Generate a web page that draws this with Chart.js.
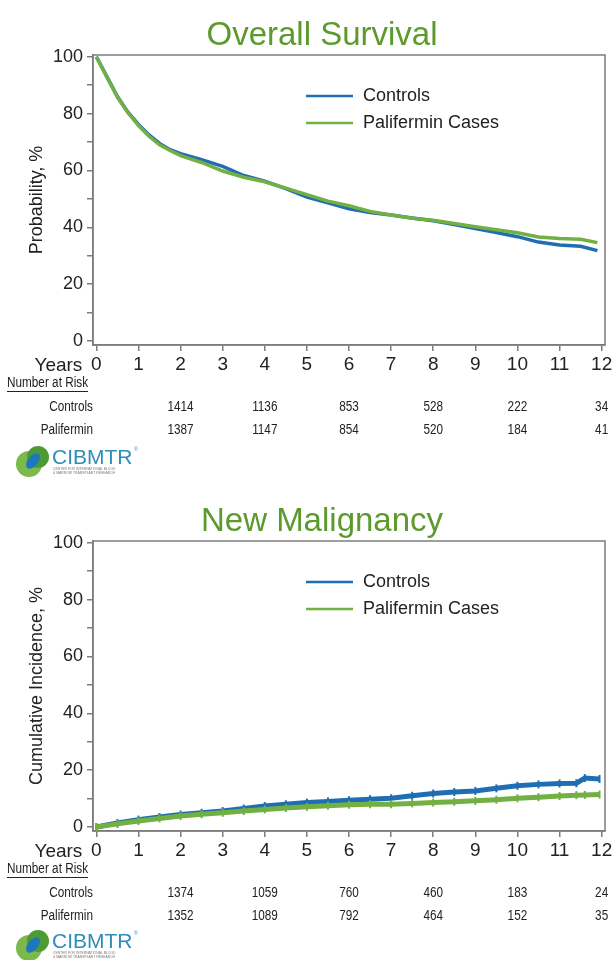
<!DOCTYPE html>
<html>
<head>
<meta charset="utf-8">
<script src="https://cdn.jsdelivr.net/npm/chart.js@4.4.0/dist/chart.umd.min.js"></script>
<style>
  html, body { margin: 0; padding: 0; background: #fff; }
  body { width: 612px; height: 960px; overflow: hidden; position: relative; }
  canvas { position: absolute; left: 0; }
  .logo { position: absolute; left: 0; }
</style>
</head>
<body>
<canvas id="osChart" width="612" height="486" style="top:0"></canvas>
<canvas id="nmChart" width="612" height="474" style="top:486px"></canvas>

<svg class="logo" style="top:440px" width="150" height="40" viewBox="0 0 150 40">
  <circle cx="29" cy="24" r="13" fill="#7cb84a"/>
  <circle cx="38" cy="17" r="11" fill="#4e9a34"/>
  <ellipse cx="33" cy="21" rx="5" ry="9" fill="#1d77bf" transform="rotate(40 33 21)"/>
  <text x="52" y="24" font-family="Liberation Sans, Arial, sans-serif" font-size="21" fill="#2f8db8">CIBMTR</text>
  <text x="134" y="11" font-family="Liberation Sans, Arial, sans-serif" font-size="5" fill="#2f8db8">®</text>
  <text x="53" y="30" font-family="Liberation Sans, Arial, sans-serif" font-size="3.4" fill="#777">CENTER FOR INTERNATIONAL BLOOD</text>
  <text x="53" y="34" font-family="Liberation Sans, Arial, sans-serif" font-size="3.4" fill="#777">&amp; MARROW TRANSPLANT RESEARCH</text>
</svg>
<svg class="logo" style="top:924px" width="150" height="40" viewBox="0 0 150 40">
  <circle cx="29" cy="24" r="13" fill="#7cb84a"/>
  <circle cx="38" cy="17" r="11" fill="#4e9a34"/>
  <ellipse cx="33" cy="21" rx="5" ry="9" fill="#1d77bf" transform="rotate(40 33 21)"/>
  <text x="52" y="24" font-family="Liberation Sans, Arial, sans-serif" font-size="21" fill="#2f8db8">CIBMTR</text>
  <text x="134" y="11" font-family="Liberation Sans, Arial, sans-serif" font-size="5" fill="#2f8db8">®</text>
  <text x="53" y="30" font-family="Liberation Sans, Arial, sans-serif" font-size="3.4" fill="#777">CENTER FOR INTERNATIONAL BLOOD</text>
  <text x="53" y="34" font-family="Liberation Sans, Arial, sans-serif" font-size="3.4" fill="#777">&amp; MARROW TRANSPLANT RESEARCH</text>
</svg>

<script>
// axis ticks
const xTicks = [0, 1, 2, 3, 4, 5, 6, 7, 8, 9, 10, 11, 12];
const yTicks = [0, 10, 20, 30, 40, 50, 60, 70, 80, 90, 100];

// overall survival, %
const osYears = [0, 0.25, 0.5, 0.75, 1, 1.25, 1.5, 1.75, 2, 2.5, 3, 3.5, 4, 4.5, 5, 5.5, 6, 6.5, 7, 7.5, 8, 8.5, 9, 9.5, 10, 10.5, 11, 11.5, 11.9];
const osControls = [100, 93, 86, 80.5, 76.2, 72.5, 69.5, 67.3, 65.9, 63.8, 61.4, 58.2, 56.2, 53.6, 50.6, 48.6, 46.5, 45.2, 44.3, 43.3, 42.3, 41.0, 39.6, 38.2, 36.7, 34.8, 33.8, 33.3, 31.8];
const osPalifermin = [100, 92.8, 85.8, 80.3, 75.8, 72, 69, 67, 65.2, 62.8, 59.8, 57.6, 56.0, 53.8, 51.5, 49.2, 47.6, 45.6, 44.3, 43.2, 42.5, 41.3, 40.2, 39.1, 38.1, 36.6, 36.1, 35.8, 34.6];

// new malignancy, cumulative incidence %
const nmYears = [0, 0.5, 1, 1.5, 2, 2.5, 3, 3.5, 4, 4.5, 5, 5.5, 6, 6.5, 7, 7.5, 8, 8.5, 9, 9.5, 10, 10.5, 11, 11.4, 11.6, 11.95];
const nmControls = [0, 1.4, 2.6, 3.5, 4.4, 5.0, 5.6, 6.5, 7.4, 8.0, 8.6, 9.0, 9.4, 9.8, 10.1, 11.0, 11.8, 12.3, 12.7, 13.6, 14.5, 15.0, 15.3, 15.4, 17.2, 16.9];
const nmPalifermin = [0, 1.1, 2.1, 3.0, 3.9, 4.5, 5.0, 5.6, 6.2, 6.7, 7.1, 7.5, 7.8, 8.0, 8.0, 8.3, 8.6, 8.9, 9.2, 9.6, 10.1, 10.5, 10.9, 11.2, 11.3, 11.4];

// number at risk
const riskYears = [2, 4, 6, 8, 10, 12];
const osRiskControls = [1414, 1136, 853, 528, 222, 34];
const osRiskPalifermin = [1387, 1147, 854, 520, 184, 41];
const nmRiskControls = [1374, 1059, 760, 460, 183, 24];
const nmRiskPalifermin = [1352, 1089, 792, 464, 152, 35];

const blue = '#1f6db2';
const green = '#72b043';
const titleGreen = '#5c9a2c';
const axisGrey = '#7d7d7d';
const sans = '"Liberation Sans", Arial, sans-serif';

Chart.defaults.font.family = sans;
Chart.defaults.color = '#222';

function toPoints(xs, ys) {
  return xs.map((x, i) => ({ x: x, y: ys[i] }));
}

// condensed text for the risk table (squeezed horizontally)
function narrowText(ctx, text, x, y, align) {
  const sx = 0.84;
  ctx.save();
  ctx.scale(sx, 1);
  ctx.textAlign = align;
  ctx.fillText(text, x / sx, y);
  ctx.restore();
  return ctx.measureText(text).width * sx;
}

// frame, heading, legend and the number-at-risk table
const kmExtras = {
  id: 'kmExtras',
  beforeDatasetsDraw(chart) {
    const { ctx, chartArea: a } = chart;
    ctx.save();
    ctx.strokeStyle = axisGrey;
    ctx.lineWidth = 1.5;
    ctx.strokeRect(a.left, a.top, a.right - a.left, a.bottom - a.top);
    ctx.restore();
  },
  afterDraw(chart, args, opts) {
    const { ctx, chartArea: a } = chart;
    const x = chart.scales.x;
    ctx.save();

    ctx.font = '33px ' + sans;
    ctx.fillStyle = titleGreen;
    ctx.textAlign = 'center';
    ctx.textBaseline = 'alphabetic';
    ctx.fillText(opts.title, 322, 45);

    ctx.font = '18px ' + sans;
    ctx.textBaseline = 'middle';
    chart.data.datasets.forEach((ds, i) => {
      const ly = a.top + 41 + i * 27;
      ctx.strokeStyle = ds.borderColor;
      ctx.lineWidth = 2.5;
      ctx.beginPath();
      ctx.moveTo(a.left + 213, ly);
      ctx.lineTo(a.left + 260, ly);
      ctx.stroke();
      ctx.fillStyle = '#222';
      ctx.textAlign = 'left';
      ctx.fillText(ds.label, a.left + 270, ly);
    });

    // axis caption sits left of the first year label
    ctx.font = '19px ' + sans;
    ctx.textAlign = 'right';
    ctx.fillStyle = '#222';
    ctx.fillText('Years', x.getPixelForValue(xTicks[0]) - 14, a.bottom + 21);

    ctx.font = '14px ' + sans;
    const w = narrowText(ctx, 'Number at Risk', 7, a.bottom + 38, 'left');
    ctx.strokeStyle = '#222';
    ctx.lineWidth = 1;
    ctx.beginPath();
    ctx.moveTo(7, a.bottom + 46.5);
    ctx.lineTo(7 + w, a.bottom + 46.5);
    ctx.stroke();

    opts.rows.forEach((row, r) => {
      const ry = a.bottom + 62 + r * 23;
      narrowText(ctx, row.label, a.left, ry, 'right');
      row.values.forEach((v, i) => {
        narrowText(ctx, String(v), x.getPixelForValue(riskYears[i]), ry, 'center');
      });
    });
    ctx.restore();
  }
};

function buildChart(id, cfg) {
  const canvas = document.getElementById(id);
  const h = canvas.height;
  return new Chart(canvas, {
    type: 'line',
    data: {
      datasets: [
        {
          label: 'Controls',
          data: toPoints(cfg.years, cfg.controls),
          borderColor: blue,
          backgroundColor: blue,
          borderWidth: cfg.lineWidth,
          pointStyle: 'line',
          pointRotation: 90,
          pointRadius: cfg.markRadius,
          pointBorderWidth: 2,
          pointBorderColor: blue,
          tension: 0,
          order: 1
        },
        {
          label: 'Palifermin Cases',
          data: toPoints(cfg.years, cfg.palifermin),
          borderColor: green,
          backgroundColor: green,
          borderWidth: cfg.lineWidth,
          pointStyle: 'line',
          pointRotation: 90,
          pointRadius: cfg.markRadius,
          pointBorderWidth: 2,
          pointBorderColor: green,
          tension: 0,
          order: 0
        }
      ]
    },
    options: {
      responsive: false,
      animation: false,
      devicePixelRatio: 1,
      layout: { padding: { top: 55, left: 0, right: 7, bottom: h - 345 - 30 } },
      plugins: {
        legend: { display: false },
        tooltip: { enabled: false },
        kmExtras: { title: cfg.title, rows: cfg.rows }
      },
      scales: {
        x: {
          type: 'linear',
          min: -0.08,
          max: 12.08,
          afterBuildTicks: s => { s.ticks = xTicks.map(v => ({ value: v })); },
          afterFit: s => { s.height = 30; s.paddingLeft = 0; s.paddingRight = 0; },
          ticks: { font: { size: 19 }, color: '#222', padding: 2, maxRotation: 0, autoSkip: false },
          grid: { drawOnChartArea: false, tickLength: 6, color: axisGrey, lineWidth: 1.5 },
          border: { color: axisGrey, width: 1.5 }
        },
        y: {
          min: -1.4,
          max: 100.6,
          afterBuildTicks: s => { s.ticks = yTicks.map(v => ({ value: v })); },
          afterFit: s => { s.width = 93; s.paddingTop = 0; s.paddingBottom = 0; },
          ticks: {
            font: { size: 18 },
            color: '#222',
            padding: 4,
            callback: v => (v % 20 === 0 ? String(v) : '')
          },
          title: { display: true, text: cfg.yTitle, font: { size: 18 }, color: '#222', padding: { top: 26, bottom: 0 } },
          grid: { drawOnChartArea: false, tickLength: 6, color: axisGrey, lineWidth: 1.5 },
          border: { color: axisGrey, width: 1.5 }
        }
      }
    },
    plugins: [kmExtras]
  });
}

buildChart('osChart', {
  title: 'Overall Survival',
  yTitle: 'Probability, %',
  years: osYears,
  controls: osControls,
  palifermin: osPalifermin,
  lineWidth: 3.5,
  markRadius: 0,
  rows: [
    { label: 'Controls', values: osRiskControls },
    { label: 'Palifermin', values: osRiskPalifermin }
  ]
});

buildChart('nmChart', {
  title: 'New Malignancy',
  yTitle: 'Cumulative Incidence, %',
  years: nmYears,
  controls: nmControls,
  palifermin: nmPalifermin,
  lineWidth: 5,
  markRadius: 4,
  rows: [
    { label: 'Controls', values: nmRiskControls },
    { label: 'Palifermin', values: nmRiskPalifermin }
  ]
});
</script>
</body>
</html>
